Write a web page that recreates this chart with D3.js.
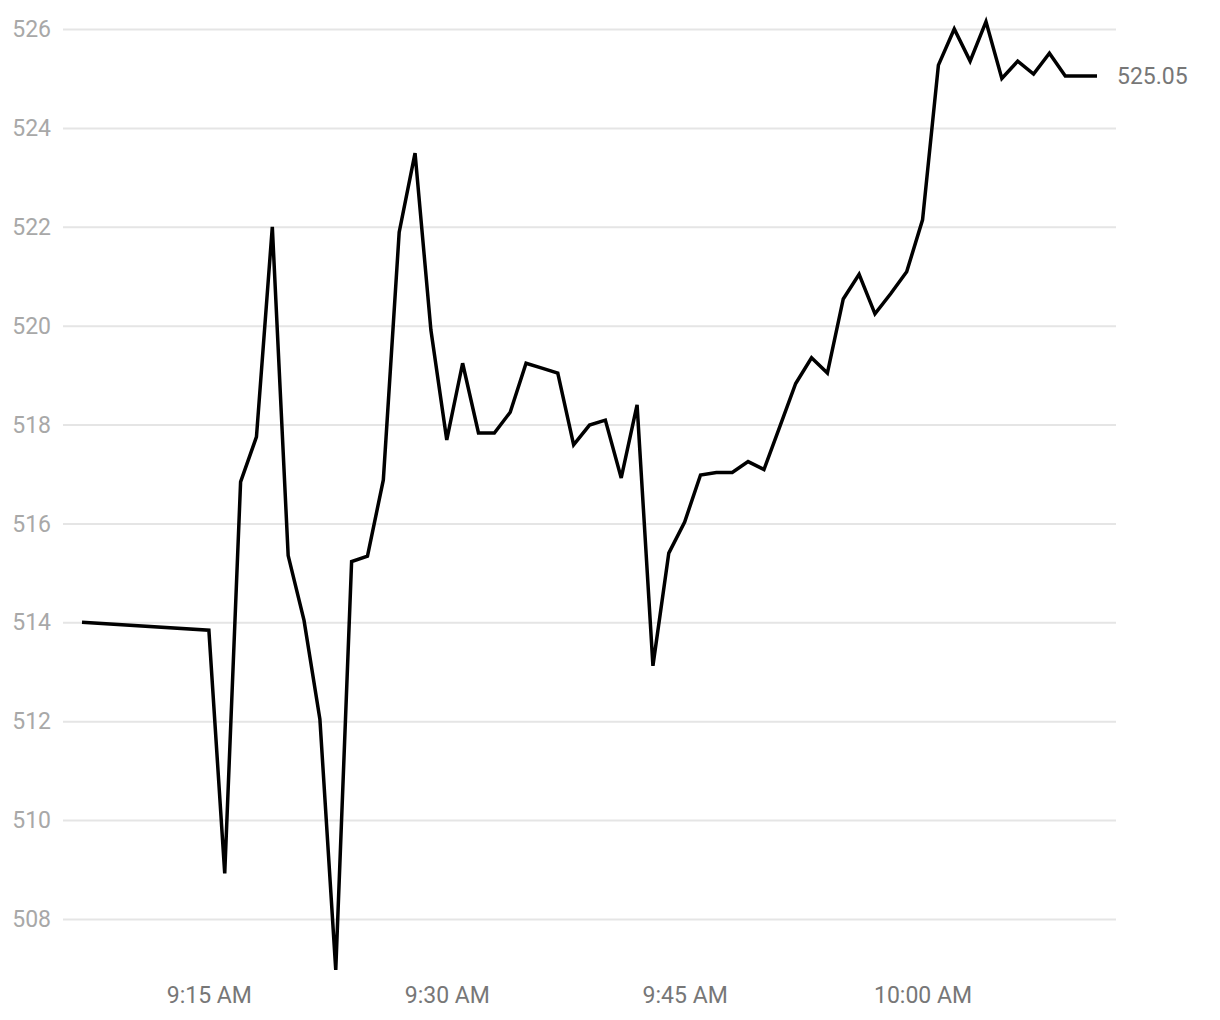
<!DOCTYPE html>
<html lang="en">
<head>
<meta charset="UTF-8">
<title>Intraday price</title>
<script src="https://d3js.org/d3.v7.min.js"></script>
<style>
html, body {
  margin: 0;
  padding: 0;
  background-color: white;
}
body {
  font-family: 'Roboto', sans-serif;
}
.grid line {
  stroke: #e5e5e5;
  stroke-width: 2px;
}
.grid path { display: none; }
.y-axis path, .y-axis line, .x-axis path, .x-axis line { display: none; }
.y-axis text {
  font-family: 'Roboto', sans-serif;
  font-size: 23px;
  fill: #a8a8a8;
}
.x-axis text {
  font-family: 'Roboto', sans-serif;
  font-size: 23px;
  fill: #777777;
}
.line {
  fill: none;
  stroke: #000;
  stroke-width: 3.5px;
  stroke-linejoin: miter;
}
.last-label {
  font-family: 'Roboto', sans-serif;
  font-size: 23px;
  fill: #777777;
}
</style>
</head>
<body>
<div id="chart"></div>
<script>

// --------------------------------------
// Data
// --------------------------------------

var times = ["9:07", "9:15", "9:16", "9:17", "9:18", "9:19", "9:20", "9:21", "9:22", "9:23",
  "9:24", "9:25", "9:26", "9:27", "9:28", "9:29", "9:30", "9:31", "9:32", "9:33",
  "9:34", "9:35", "9:36", "9:37", "9:38", "9:39", "9:40", "9:41", "9:42", "9:43",
  "9:44", "9:45", "9:46", "9:47", "9:48", "9:49", "9:50", "9:51", "9:52", "9:53",
  "9:54", "9:55", "9:56", "9:57", "9:58", "9:59", "10:00", "10:01", "10:02", "10:03",
  "10:04", "10:05", "10:06", "10:07", "10:08", "10:09", "10:10", "10:11"];

var prices = [514.00, 513.84, 508.92, 516.84, 517.75, 522.00, 515.35, 514.04, 512.04, 506.97,
  515.23, 515.34, 516.88, 521.89, 523.49, 519.91, 517.69, 519.24, 517.83, 517.83,
  518.25, 519.24, 519.14, 519.04, 517.59, 517.99, 518.09, 516.92, 518.40, 513.12,
  515.40, 516.03, 516.98, 517.03, 517.03, 517.25, 517.09, 517.96, 518.83, 519.35,
  519.04, 520.54, 521.04, 520.24, 520.65, 521.09, 522.14, 525.27, 526.00, 525.35,
  526.15, 525.00, 525.35, 525.09, 525.51, 525.05, 525.05, 525.05];

var yTicks = [508, 510, 512, 514, 516, 518, 520, 522, 524, 526];
var xTicks = ["9:15", "9:30", "9:45", "10:00"];
var lastLabel = "525.05";

// --------------------------------------
// Size
// --------------------------------------

var totalWidth = 1220;
var totalHeight = 1020;
var gridLeft = 63;
var gridRight = 1116;

var svg = d3.select("#chart")
  .append("svg")
  .attr("width", totalWidth)
  .attr("height", totalHeight);

var parseTime = d3.timeParse("%H:%M");
var formatTime = d3.timeFormat("%-I:%M %p");

var data = times.map((t, i) => ({ date: parseTime(t), value: prices[i] }));

// --------------------------------------
// Scales
// --------------------------------------

var xscale = d3.scaleTime()
  .domain(d3.extent(data, d => d.date))
  .range([82, 1097]);

var yscale = d3.scaleLinear()
  .domain([508, 526])
  .range([919, 29]);

// --------------------------------------
// Grid and axes
// --------------------------------------

svg.append("g")
  .attr("class", "grid")
  .attr("transform", `translate(${gridLeft},0)`)
  .call(d3.axisLeft(yscale).tickValues(yTicks).tickSize(-(gridRight - gridLeft)).tickFormat(""));

svg.append("g")
  .attr("class", "y-axis")
  .attr("transform", `translate(51,0)`)
  .call(d3.axisLeft(yscale).tickValues(yTicks).tickSize(0).tickPadding(0))
  .selectAll("text")
  .attr("dy", "0.33em");

svg.append("g")
  .attr("class", "x-axis")
  .attr("transform", `translate(0,987)`)
  .call(d3.axisBottom(xscale)
    .tickValues(xTicks.map(parseTime))
    .tickFormat(formatTime)
    .tickSize(0)
    .tickPadding(0))
  .selectAll("text")
  .attr("dy", "0.71em");

// --------------------------------------
// Line
// --------------------------------------

var line = d3.line()
  .x(d => xscale(d.date))
  .y(d => yscale(d.value));

svg.append("path")
  .datum(data)
  .attr("class", "line")
  .attr("d", line);

var last = data[data.length - 1];
svg.append("text")
  .attr("class", "last-label")
  .attr("x", xscale(last.date) + 20)
  .attr("y", yscale(last.value))
  .attr("dy", "0.35em")
  .text(lastLabel);

</script>
</body>
</html>
